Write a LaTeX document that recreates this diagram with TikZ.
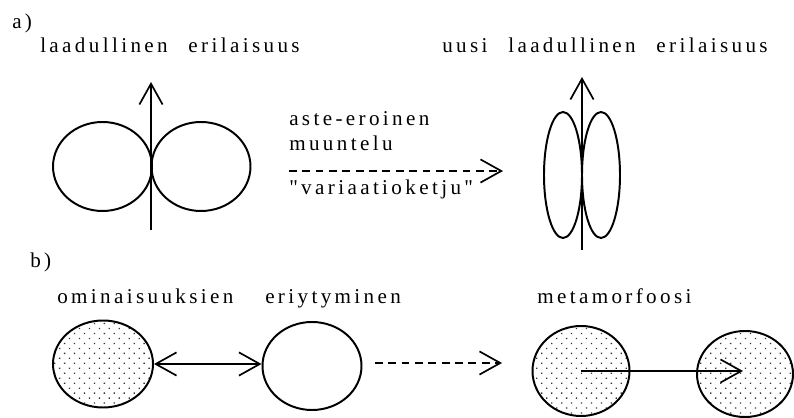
\documentclass[tikz,border=0pt]{standalone}
\usepackage{fontspec}
\setmainfont{Liberation Serif}[LetterSpace=16, WordSpace=2.4, Ligatures=TeXOff]
\usetikzlibrary{positioning, shapes.geometric, arrows.meta, patterns.meta}

\begin{document}
\begin{tikzpicture}[
every node/.style={font=\fontsize{15}{17}\selectfont},
word/.style={anchor=base west, inner sep=0},
blob/.style={ellipse, draw, line width=1.4pt, inner sep=0},
dotblob/.style={blob, pattern={Dots[distance=5pt, angle=45, radius=0.65pt]}, pattern color=black!80},
vtip/.tip={Straight Barb[length=5.2mm, width=5.8mm]},
arrow/.style={-vtip, line width=1.2pt},
dasharrow/.style={arrow, dash pattern=on 5.5pt off 4pt}
]
\useasboundingbox (0,0) rectangle (19.85,10.45);

% a) gradual variation
\node[word] (tagA) at (0.30,9.725) {a)};
\node[word] (diffOld) at (1.0,9.125) {laadullinen erilaisuus};
\node[word] (diffNew) at (11.05,9.125) {uusi laadullinen erilaisuus};

\node[blob, minimum width=2.475cm, minimum height=2.225cm] (oldL) at (2.5625,6.2875) {};
\node[blob, minimum width=2.475cm, minimum height=2.225cm] (oldR) at (5.025,6.2875) {};
\coordinate (oldBot) at (3.775,4.7);
\coordinate (oldTop) at (3.775,8.4);
\draw[arrow] (oldBot) -- (oldTop);

\node[word] (grade) at (7.225,7.3) {aste-eroinen};
\node[word] (vary) at (7.225,6.675) {muuntelu};
\node[word] (chain) at (7.225,5.575) {"variaatioketju"};
\coordinate (chainFrom) at (7.225,6.175);
\coordinate (chainTo) at (12.575,6.175);
\draw[dasharrow] (chainFrom) -- (chainTo);

\node[blob, minimum width=0.95cm, minimum height=3.15cm] (newL) at (14.075,6.075) {};
\node[blob, minimum width=0.95cm, minimum height=3.15cm] (newR) at (15.025,6.075) {};
\coordinate (newBot) at (14.55,4.2);
\coordinate (newTop) at (14.55,8.525);
\draw[arrow] (newBot) -- (newTop);

% b) metamorphosis
\node[word] (tagB) at (0.75,3.75) {b)};
\node[word] (props) at (1.425,2.85) {ominaisuuksien};
\node[word] (split) at (6.625,2.85) {eriytyminen};
\node[word] (meta) at (13.425,2.85) {metamorfoosi};

\node[dotblob, minimum width=2.5cm, minimum height=2.175cm] (propL) at (2.575,1.35) {};
\node[blob, minimum width=2.475cm, minimum height=2.2cm] (propR) at (7.8,1.3) {};
\draw[arrow, vtip-vtip] (propL.east) -- (propL.east -| propR.west);

\coordinate (stepFrom) at (9.375,1.375);
\coordinate (stepTo) at (12.55,1.375);
\draw[dasharrow] (stepFrom) -- (stepTo);

\node[dotblob, minimum width=2.425cm, minimum height=2.25cm] (metaL) at (14.525,1.175) {};
\node[dotblob, minimum width=2.4cm, minimum height=2.15cm] (metaR) at (18.625,1.1) {};
\draw[arrow] (metaL.center) -- ([xshift=-0.05cm]metaL.center -| metaR.center);

\end{tikzpicture}
\end{document}
